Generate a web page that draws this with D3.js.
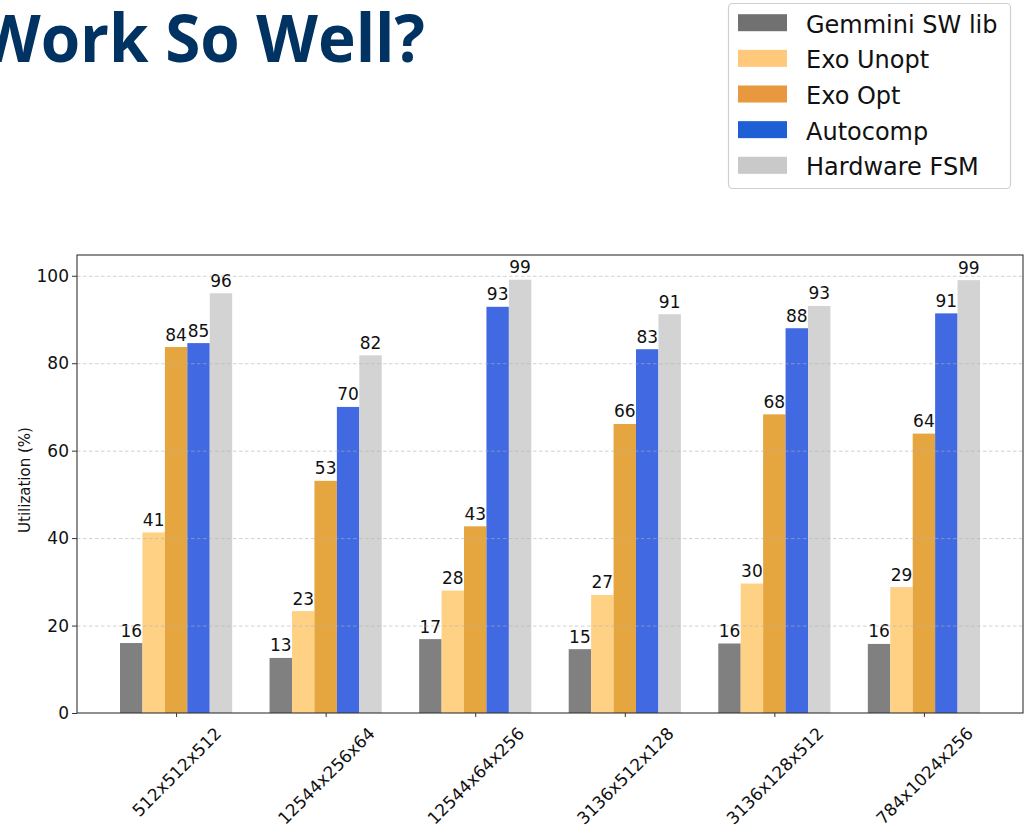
<!DOCTYPE html>
<html>
<head>
<meta charset="utf-8">
<script src="https://cdn.jsdelivr.net/npm/d3@7"></script>
<style>
  html, body { margin: 0; padding: 0; background: #fff; }
  svg { display: block; }
  text { font-family: "DejaVu Sans", sans-serif; }
</style>
</head>
<body>
<script>
// ---- data ----
const categories = ["512x512x512", "12544x256x64", "12544x64x256", "3136x512x128", "3136x128x512", "784x1024x256"];
const seriesNames = ["Gemmini SW lib", "Exo Unopt", "Exo Opt", "Autocomp", "Hardware FSM"];
const gemminiSW   = [16.0, 12.6, 16.9, 14.6, 15.9, 15.8];
const exoUnopt    = [41.3, 23.3, 28.0, 27.0, 29.6, 28.8];
const exoOpt      = [83.7, 53.1, 42.7, 66.1, 68.3, 63.9];
const autocomp    = [84.6, 70.0, 92.9, 83.2, 88.0, 91.4];
const hardwareFSM = [96.0, 81.8, 99.1, 91.2, 93.1, 99.0];
const yTicks = [0, 20, 40, 60, 80, 100];
const barColors = ["#808080", "#FED185", "#E5A63F", "#4169E1", "#D3D3D3"];
const legendColors = ["#717171", "#FFC87B", "#E8993F", "#1F5FD6", "#C9C9C9"];
const titleText = "Work So Well?";
const yLabel = "Utilization (%)";

const seriesValues = [gemminiSW, exoUnopt, exoOpt, autocomp, hardwareFSM];

const W = 1025, H = 829;
const svg = d3.select("body").append("svg").attr("width", W).attr("height", H);

// ---- title ----
svg.append("text")
  .attr("x", -21).attr("y", 62)
  .attr("textLength", 446).attr("lengthAdjust", "spacingAndGlyphs")
  .style("font-family", "'Open Sans', 'Lato', sans-serif")
  .style("font-weight", 700).style("font-size", "67px")
  .attr("fill", "#003262")
  .text(titleText);

// ---- legend ----
const lg = svg.append("g");
lg.append("rect").attr("x", 728.5).attr("y", 3.5).attr("width", 282).attr("height", 185)
  .attr("rx", 4).attr("fill", "#fff").attr("stroke", "#d0d0d0").attr("stroke-width", 1.2);
const legY = d3.scalePoint().domain(seriesNames).range([32.7, 175.3]);
seriesNames.forEach((s, j) => {
  lg.append("rect").attr("x", 738).attr("y", legY(s) - 18.5).attr("width", 49).attr("height", 17)
    .attr("fill", legendColors[j]);
  lg.append("text").attr("x", 806).attr("y", legY(s))
    .style("font-size", "24px").attr("fill", "#111").text(s);
});

// ---- plot ----
const pLeft = 77, pRight = 1023, pTop = 255, pBottom = 713;
const x0 = d3.scaleLinear().domain([-0.6625, categories.length - 1 + 0.6625]).range([pLeft, pRight]);
const x1 = d3.scaleBand().domain(seriesNames).range([-0.375, 0.375]);
const y = d3.scaleLinear().domain([0, 104.75]).range([pBottom, pTop]);
const bw = x0(x1.bandwidth()) - x0(0);

// bars
seriesNames.forEach((s, j) => {
  const g = svg.append("g");
  g.selectAll("rect").data(seriesValues[j]).join("rect")
    .attr("x", (d, i) => x0(i + x1(s)))
    .attr("y", d => y(d))
    .attr("width", bw)
    .attr("height", d => y(0) - y(d))
    .attr("fill", barColors[j]);
  g.selectAll("text").data(seriesValues[j]).join("text")
    .attr("x", (d, i) => x0(i + x1(s)) + bw / 2)
    .attr("y", d => y(d) - 6.5)
    .attr("text-anchor", "middle")
    .style("font-size", "17px").attr("fill", "#111")
    .text(d => Math.round(d));
});

// grid (drawn over bars, translucent)
svg.append("g").selectAll("line").data(yTicks.slice(1)).join("line")
  .attr("x1", pLeft).attr("x2", pRight)
  .attr("y1", d => y(d) + 0.5).attr("y2", d => y(d) + 0.5)
  .attr("stroke", "#b0b0b0").attr("stroke-opacity", 0.6)
  .attr("stroke-width", 1).attr("stroke-dasharray", "3.5,2.5");

// y axis
const yAxis = svg.append("g").attr("transform", `translate(${pLeft},0)`)
  .call(d3.axisLeft(y).tickValues(yTicks).tickSize(5).tickPadding(3));
yAxis.select(".domain").remove();
yAxis.selectAll("text").style("font-size", "17px").attr("fill", "#111")
  .style("font-family", "'DejaVu Sans', sans-serif");
yAxis.selectAll("line").attr("stroke", "#333");

// x axis
const xAxis = svg.append("g").attr("transform", `translate(0,${pBottom})`)
  .call(d3.axisBottom(x0).tickValues(d3.range(categories.length)).tickSize(4)
        .tickFormat(i => categories[i]));
xAxis.select(".domain").remove();
xAxis.selectAll("line").attr("stroke", "#333");
xAxis.selectAll("text")
  .style("font-size", "17px").attr("fill", "#111")
  .style("font-family", "'DejaVu Sans', sans-serif")
  .attr("text-anchor", "middle")
  .attr("y", 0).attr("dy", "0.36em")
  .attr("transform", function() {
    const w = this.getComputedTextLength();
    const h = 12.4;
    const cy = 13 + (w + h) / (2 * Math.SQRT2);
    return `translate(0,${cy}) rotate(-45)`;
  });

// frame
svg.append("rect").attr("x", pLeft).attr("y", pTop).attr("width", pRight - pLeft).attr("height", pBottom - pTop)
  .attr("fill", "none").attr("stroke", "#333").attr("stroke-width", 1.1);

// y label
svg.append("text").attr("transform", `translate(30,480) rotate(-90)`)
  .attr("text-anchor", "middle").style("font-size", "15px").attr("fill", "#111")
  .text(yLabel);
</script>
</body>
</html>
